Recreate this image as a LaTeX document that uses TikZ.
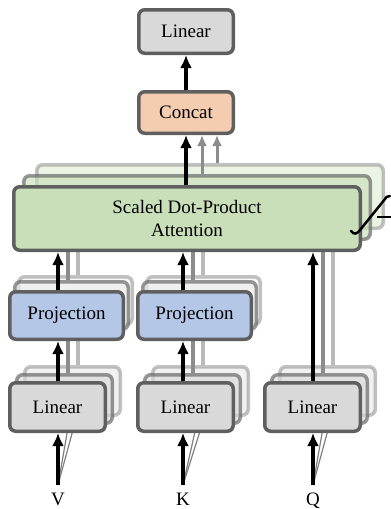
\documentclass[tikz,border=0pt]{standalone}
\usepackage{fontspec}
\setmainfont{Liberation Serif}
\usepackage{xcolor}
\usepackage{tikz}
\usetikzlibrary{arrows.meta,positioning}

\definecolor{bordergray}{HTML}{5F5F5F}
\definecolor{lingray}{HTML}{D9D9D9}
\definecolor{projblue}{HTML}{B4C7E7}
\definecolor{catorange}{HTML}{F4CCAF}
\definecolor{attgreen}{HTML}{C9DFB9}

\begin{document}
\begin{tikzpicture}[x=1pt, y=-1pt, every node/.style={font=\fontsize{19}{22.5}\selectfont},
  >={Latex[length=13pt,width=12pt]},
  blk/.style={draw=bordergray, line width=3.5pt, rounded corners=6pt, inner sep=0pt, align=center},
  linbox/.style={blk, fill=lingray, minimum width=95.5pt, minimum height=48.5pt},
  projbox/.style={blk, fill=projblue, minimum width=113.5pt, minimum height=47.5pt},
  projback/.style={blk, fill=lingray!50, minimum width=113.5pt, minimum height=47.5pt},
  back2/.style={opacity=0.65},
  back3/.style={opacity=0.38},
  arr/.style={->, line width=3.5pt},
  garr/.style={->, line width=3pt, draw=black!45, >={Latex[length=11pt,width=10pt]}},
  gline2/.style={line width=3.5pt, draw=black!45},
  gline3/.style={line width=3.5pt, draw=black!27},
  fan/.style={line width=1.2pt, draw=black!50}]

  \useasboundingbox (0,0) rectangle (391,509);

  % Column positions
  \coordinate (cv) at (58,0);  \coordinate (cv2) at (68,0);  \coordinate (cv3) at (78,0);
  \coordinate (ck) at (183,0); \coordinate (ck2) at (193,0); \coordinate (ck3) at (203,0);
  \coordinate (cq) at (313,0); \coordinate (cq2) at (323,0); \coordinate (cq3) at (333,0);
  \coordinate (cc2) at (202,0); \coordinate (cc3) at (217,0);

  % Back copies (heads)
  \node (lv3) [linbox, back3] at (72.5,391) {};
  \node (lv2) [linbox, back2] at (64.5,399) {};
  \node (lk3) [linbox, back3] at (200.5,391) {};
  \node (lk2) [linbox, back2] at (192.5,399) {};
  \node (lq3) [linbox, back3] at (327.5,391) {};
  \node (lq2) [linbox, back2] at (319.5,399) {};
  \node (pv3) [projback, back3] at (75.5,300.5) {};
  \node (pv2) [projback, back2] at (71.5,305.5) {};
  \node (pk3) [projback, back3] at (203.5,300.5) {};
  \node (pk2) [projback, back2] at (199.5,305.5) {};
  \node (sdpa3) [blk, back3, fill=attgreen, minimum width=346.5pt, minimum height=63.5pt] at (210,196.5) {};
  \node (sdpa2) [blk, back2, fill=attgreen, minimum width=346.5pt, minimum height=63.5pt] at (197,207.5) {};

  % Inputs
  \node (v) [anchor=north, inner xsep=2pt, inner ysep=8pt] at (58,485) {V};
  \node (k) [anchor=north, inner xsep=2pt, inner ysep=8pt] at (183,485) {K};
  \node (q) [anchor=north, inner xsep=2pt, inner ysep=8pt] at (313,485) {Q};

  % Paths of the other heads
  \draw[fan] (v.north) -- ([xshift=4pt]lv2.south);
  \draw[fan] (v.north) -- ([xshift=4pt]lv3.south);
  \draw[fan] (k.north) -- ([xshift=4pt]lk2.south);
  \draw[fan] (k.north) -- ([xshift=4pt]lk3.south);
  \draw[fan] (q.north) -- ([xshift=4pt]lq2.south);
  \draw[fan] (q.north) -- ([xshift=4pt]lq3.south);
  \draw[gline3] (cv3 |- lv3.north) -- (cv3 |- pv3.south);
  \draw[gline2] (cv2 |- lv2.north) -- (cv2 |- pv2.south);
  \draw[gline3] (ck3 |- lk3.north) -- (ck3 |- pk3.south);
  \draw[gline2] (ck2 |- lk2.north) -- (ck2 |- pk2.south);
  \draw[gline3] (cv3 |- pv3.north) -- (cv3 |- sdpa3.south);
  \draw[gline2] (cv2 |- pv2.north) -- (cv2 |- sdpa2.south);
  \draw[gline3] (ck3 |- pk3.north) -- (ck3 |- sdpa3.south);
  \draw[gline2] (ck2 |- pk2.north) -- (ck2 |- sdpa2.south);
  \draw[gline3] (cq3 |- lq3.north) -- (cq3 |- sdpa3.south);
  \draw[gline2] (cq2 |- lq2.north) -- (cq2 |- sdpa2.south);

  % Front head
  \node (lv) [linbox] at (57.5,407) {Linear};
  \node (lk) [linbox] at (185.5,407) {Linear};
  \node (lq) [linbox] at (312.5,407) {Linear};
  \node (pv) [projbox] at (66.5,315.5) {Projection};
  \node (pk) [projbox] at (194.5,315.5) {Projection};
  \node (sdpa) [blk, fill=attgreen, minimum width=346.5pt, minimum height=63.5pt] at (187,218.5) {Scaled Dot-Product\\Attention};
  \node (cat) [blk, fill=catorange, minimum width=94.5pt, minimum height=41.5pt] at (186,112.5) {Concat};
  \node (lout) [blk, fill=lingray, minimum width=94.5pt, minimum height=43.5pt] at (186,31.5) {Linear};

  % Heads mark
  \draw[line width=2.5pt, line cap=round] (351,231) .. controls (354,235) and (357,234) .. (360,230) -- (385,199) .. controls (386,197) .. (390,196);
  \draw[line width=1.5pt] (377,217) -- (391,217);

  % Arrows
  \draw[arr] (v.north) -- (cv |- lv.south);
  \draw[arr] (k.north) -- (ck |- lk.south);
  \draw[arr] (q.north) -- (cq |- lq.south);
  \draw[arr] (cv |- lv.north) -- (cv |- pv.south);
  \draw[arr] (ck |- lk.north) -- (ck |- pk.south);
  \draw[arr] (cv |- pv.north) -- (cv |- sdpa.south);
  \draw[arr] (ck |- pk.north) -- (ck |- sdpa.south);
  \draw[arr] (cq |- lq.north) -- (cq |- sdpa.south);
  \draw[garr] (cc3 |- sdpa3.north) -- (cc3 |- cat.south);
  \draw[garr] (cc2 |- sdpa2.north) -- (cc2 |- cat.south);
  \draw[arr] (cat.south |- sdpa.north) -- (cat.south);
  \draw[arr] (cat.north) -- (lout.south);

\end{tikzpicture}
\end{document}
